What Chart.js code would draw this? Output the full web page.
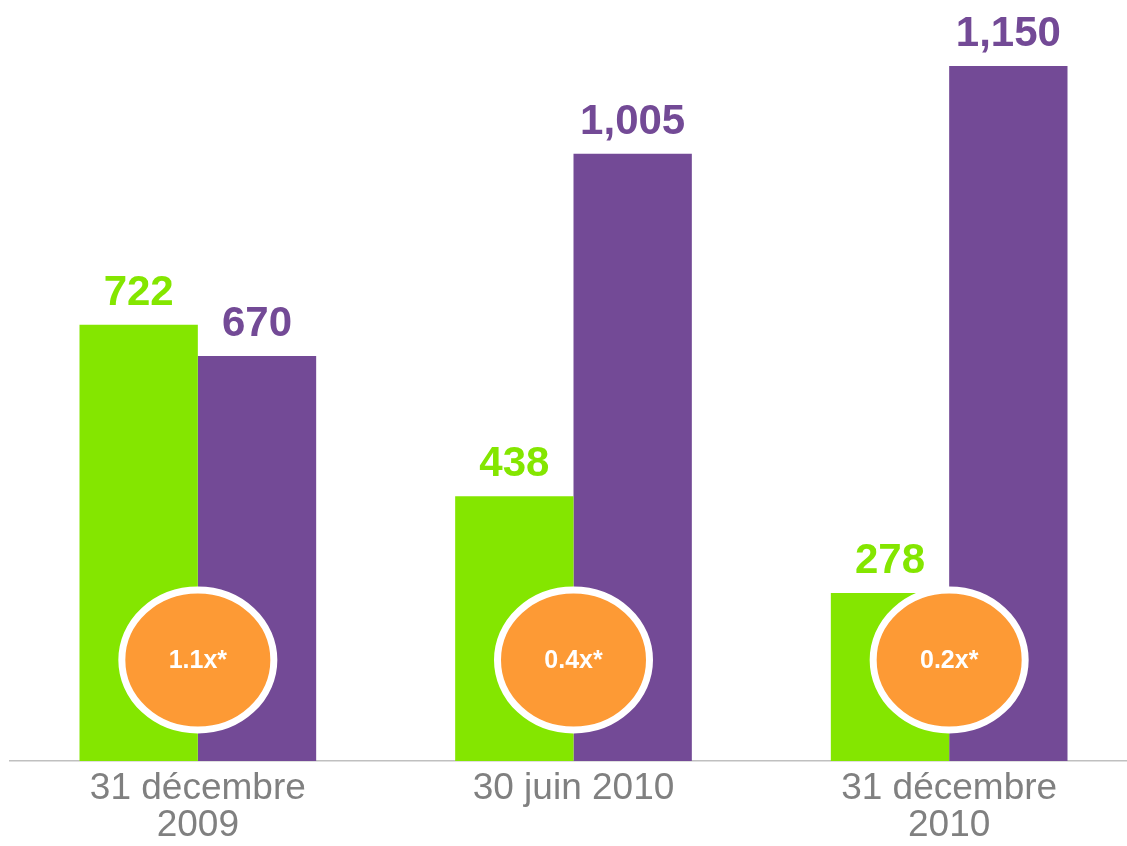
<!DOCTYPE html>
<html>
<head>
<meta charset="utf-8">
<script src="https://cdn.jsdelivr.net/npm/chart.js@4.4.1/dist/chart.umd.min.js"></script>
<style>
  html, body { margin: 0; padding: 0; background: #fff; overflow: hidden; }
  #wrap { width: 1137px; height: 853px; }
</style>
</head>
<body>
<div id="wrap"><canvas id="debtChart"></canvas></div>
<script>
const periods = [['31 décembre', '2009'], '30 juin 2010', ['31 décembre', '2010']];
const greenValues = [722, 438, 278];
const purpleValues = [670, 1005, 1150];
const ratioLabels = ['1.1x*', '0.4x*', '0.2x*'];

const GREEN = '#84e600';
const PURPLE = '#734a96';
const ORANGE = '#fd9a35';
const FONT = '"Liberation Sans", Arial, sans-serif';

// value labels above each bar
const valueLabels = {
    id: 'valueLabels',
    afterDatasetsDraw(chart) {
        const ctx = chart.ctx;
        ctx.save();
        ctx.font = 'bold 42px ' + FONT;
        ctx.textAlign = 'center';
        ctx.textBaseline = 'alphabetic';
        chart.data.datasets.forEach((ds, di) => {
            chart.getDatasetMeta(di).data.forEach((bar, i) => {
                ctx.fillStyle = ds.backgroundColor;
                ctx.fillText(ds.data[i].toLocaleString('en-US'), bar.x, bar.y - 20);
            });
        });
        ctx.restore();
    }
};

// orange ratio badges sitting on each group
const ratioBadges = {
    id: 'ratioBadges',
    afterDatasetsDraw(chart) {
        const ctx = chart.ctx;
        const x = chart.scales.x;
        const cy = chart.chartArea.bottom - 101;
        ctx.save();
        ratioLabels.forEach((txt, i) => {
            const cx = x.getPixelForValue(i);
            ctx.beginPath();
            ctx.ellipse(cx, cy, 76, 70, 0, 0, Math.PI * 2);
            ctx.fillStyle = ORANGE;
            ctx.fill();
            ctx.lineWidth = 7;
            ctx.strokeStyle = '#ffffff';
            ctx.stroke();
            ctx.fillStyle = '#ffffff';
            ctx.font = 'bold 25px ' + FONT;
            ctx.textAlign = 'center';
            ctx.textBaseline = 'middle';
            ctx.fillText(txt, cx, cy + 1);
        });
        ctx.restore();
    }
};

new Chart(document.getElementById('debtChart'), {
    type: 'bar',
    data: {
        labels: periods,
        datasets: [{
            data: greenValues,
            backgroundColor: GREEN,
            categoryPercentage: 0.63,
            barPercentage: 1.0
        }, {
            data: purpleValues,
            backgroundColor: PURPLE,
            categoryPercentage: 0.63,
            barPercentage: 1.0
        }]
    },
    options: {
        responsive: true,
        maintainAspectRatio: false,
        animation: false,
        layout: { padding: { left: 10, right: 0, top: 66, bottom: 0 } },
        plugins: {
            legend: { display: false },
            tooltip: { enabled: false }
        },
        scales: {
            x: {
                grid: { display: false, drawTicks: false },
                border: { display: true, color: '#c0c0c0', width: 1.5 },
                ticks: {
                    color: '#808080',
                    padding: 9,
                    font: { family: FONT, size: 37, lineHeight: 1.0 }
                }
            },
            y: {
                display: false,
                min: 0,
                max: Math.max(...purpleValues, ...greenValues)
            }
        }
    },
    plugins: [ratioBadges, valueLabels]
});
</script>
</body>
</html>
